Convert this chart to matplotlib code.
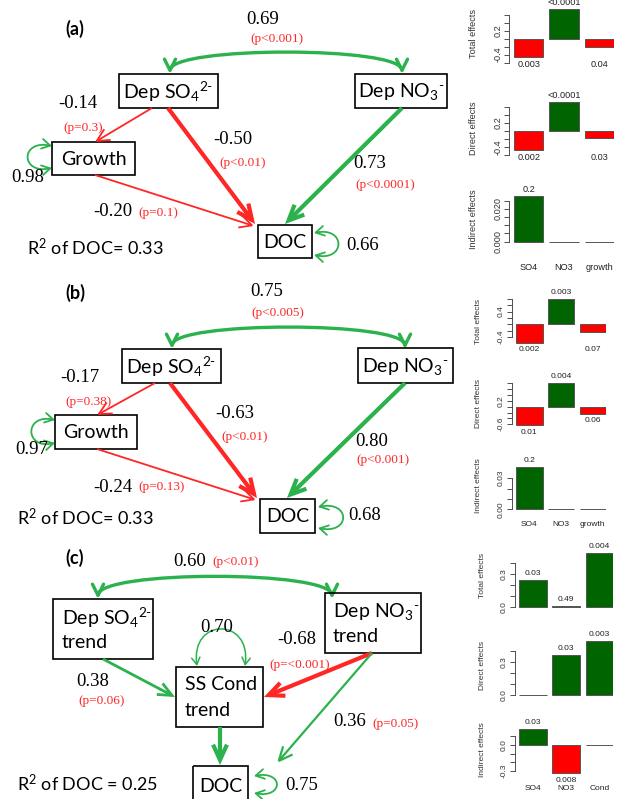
import matplotlib
matplotlib.use('Agg')
import matplotlib.pyplot as plt
from matplotlib.patches import Rectangle, FancyArrowPatch
from matplotlib.path import Path
from matplotlib.transforms import blended_transform_factory

W, H = 617, 799
SANS = 'Lato'
SERIF = 'Liberation Serif'
RSANS = 'Liberation Sans'
plt.rcParams['font.family'] = [SANS, 'DejaVu Sans']
plt.rcParams['mathtext.fontset'] = 'custom'
plt.rcParams['mathtext.rm'] = SANS
plt.rcParams['mathtext.it'] = SANS + ':italic'
plt.rcParams['mathtext.bf'] = SANS + ':bold'

GREEN = '#2bb24c'
RED = '#ff2626'
BAR_GREEN = '#006400'
BAR_RED = '#ff0000'

SO4 = 'Dep SO$_4$$^{\\text{2-}}$'
NO3 = 'Dep NO$_3$$^{\\text{-}}$'

# ---------------- path diagram values ----------------
# order: correlation, SO4->Growth, SO4->DOC, NO3->DOC, Growth->DOC
a_coef = ['0.69', '-0.14', '-0.50', '0.73', '-0.20']
a_p = ['(p<0.001)', '(p=0.3)', '(p<0.01)', '(p<0.0001)', '(p=0.1)']
a_resid = ['0.98', '0.66']
a_r2 = 'R$^2$ of DOC= 0.33'

b_coef = ['0.75', '-0.17', '-0.63', '0.80', '-0.24']
b_p = ['(p<0.005)', '(p=0.38)', '(p<0.01)', '(p<0.001)', '(p=0.13)']
b_resid = ['0.97', '0.68']
b_r2 = 'R$^2$ of DOC= 0.33'

# order: correlation, SO4->Cond, NO3->Cond, NO3->DOC
c_coef = ['0.60', '0.38', '-0.68', '0.36']
c_p = ['(p<0.01)', '(p=0.06)', '(p=<0.001)', '(p=0.05)']
c_resid = ['0.70', '0.75']
c_r2 = 'R$^2$ of DOC = 0.25'

# ---------------- effect bar values ----------------
groups_ab = ['SO4', 'NO3', 'growth']
groups_c = ['SO4', 'NO3', 'Cond']

a_total = [-0.47, 0.73, -0.20]
a_total_p = ['0.003', '<0.0001', '0.04']
a_direct = [-0.48, 0.73, -0.19]
a_direct_p = ['0.002', '<0.0001', '0.03']
a_indirect = [0.028, 0.0, 0.0]
a_indirect_p = ['0.2', '', '']

b_total = [-0.58, 0.79, -0.24]
b_total_p = ['0.002', '0.003', '0.07']
b_direct = [-0.63, 0.80, -0.24]
b_direct_p = ['0.01', '0.004', '0.06']
b_indirect = [0.041, 0.0, 0.0]
b_indirect_p = ['0.2', '', '']

c_total = [0.24, 0.01, 0.49]
c_total_p = ['0.03', '0.49', '0.004']
c_direct = [0.0, 0.36, 0.49]
c_direct_p = ['', '0.03', '0.003']
c_indirect = [0.19, -0.33, 0.0]
c_indirect_p = ['0.03', '0.008', '']

ticks_a_eff = [-0.6, -0.4, -0.2, 0.0, 0.2, 0.4, 0.6]
ticklab_a_eff = ['', '-0.4', '', '', '0.2', '', '']
ticks_a_ind = [0.0, 0.005, 0.010, 0.015, 0.020, 0.025]
ticklab_a_ind = ['0.000', '', '', '', '0.020', '']
ticks_b_tot = [-0.4, -0.2, 0.0, 0.2, 0.4, 0.6, 0.8]
ticklab_b_tot = ['-0.4', '', '', '', '0.4', '', '']
ticks_b_dir = [-0.6, -0.4, -0.2, 0.0, 0.2, 0.4, 0.6, 0.8]
ticklab_b_dir = ['-0.6', '', '', '', '0.2', '', '', '']
ticks_b_ind = [0.0, 0.01, 0.02, 0.03]
ticklab_b_ind = ['0.00', '', '', '0.03']
ticks_c_eff = [0.0, 0.1, 0.2, 0.3, 0.4]
ticklab_c_eff = ['0.0', '', '', '0.3', '']
ticks_c_ind = [-0.3, -0.2, -0.1, 0.0, 0.1]
ticklab_c_ind = ['-0.3', '', '', '0.0', '']

fig = plt.figure(figsize=(W / 100, H / 100), dpi=100)
ax = fig.add_axes([0, 0, 1, 1])
ax.set_xlim(0, W)
ax.set_ylim(H, 0)
ax.axis('off')


def box(x0, y0, x1, y1, lines, tx=None):
    ax.add_patch(Rectangle((x0, y0), x1 - x0, y1 - y0, fill=False, ec='black', lw=1.2))
    if tx is None:
        ax.text((x0 + x1) / 2, (y0 + y1) / 2 + 1, lines[0], ha='center', va='center',
                fontsize=14, family=SANS)
    else:
        for txt, ty in lines:
            ax.text(tx, ty, txt, ha='left', va='center', fontsize=14, family=SANS)


def arrow(p0, p1, color, lw, hl=9, hw=4.5):
    ax.add_patch(FancyArrowPatch(p0, p1, arrowstyle=f'->,head_length={hl},head_width={hw}',
                                 color=color, lw=lw, shrinkA=0, shrinkB=0, mutation_scale=1,
                                 joinstyle='miter', capstyle='butt'))


def curve(p0, c1, c2, p1, color, lw, style='<->', hl=8, hw=4):
    path = Path([p0, c1, c2, p1], [Path.MOVETO, Path.CURVE4, Path.CURVE4, Path.CURVE4])
    ax.add_patch(FancyArrowPatch(path=path, arrowstyle=f'{style},head_length={hl},head_width={hw}',
                                 color=color, lw=lw, mutation_scale=1))


def num(x, y, s, ha='center'):
    ax.text(x, y, s, ha=ha, va='center', fontsize=13.5, family=SERIF)


def pval(x, y, s, ha='center'):
    ax.text(x, y, s, ha=ha, va='center', fontsize=9.5, family=SERIF, color=RED)


def panel_label(x, y, s):
    ax.text(x, y, s, ha='center', va='center', fontsize=13, family=SANS, fontweight='bold')


# ---------------- panel (a) ----------------
panel_label(75, 29, '(a)')
curve((170, 74), (170, 46), (402, 46), (402, 74), GREEN, 2.4)
box(119, 74, 218, 108, [SO4])
box(355, 74, 447, 108, [NO3])
box(52, 142, 135, 175, ['Growth'])
box(258, 225, 312, 258, ['DOC'])
arrow((152, 108), (95, 142), RED, 1.3)
arrow((168, 108), (255, 224), RED, 3.0, 11, 5)
arrow((402, 108), (285, 224), GREEN, 3.0, 11, 5)
arrow((95, 175), (254, 226), RED, 1.3)
curve((52, 146), (20, 139), (20, 175), (52, 168), GREEN, 1.3, hl=6, hw=3.5)
curve((314, 233), (346, 226), (346, 262), (314, 255), GREEN, 1.3, hl=6, hw=3.5)
num(263, 19, a_coef[0]); pval(277, 39, a_p[0])
num(78, 104, a_coef[1]); pval(83, 128, a_p[1])
num(233, 140, a_coef[2]); pval(243, 163, a_p[2])
num(370, 164, a_coef[3]); pval(385, 185, a_p[3])
num(113, 212, a_coef[4]); pval(158, 213, a_p[4])
num(28, 177, a_resid[0]); num(363, 245, a_resid[1])
ax.text(27, 247, a_r2, ha='left', va='center', fontsize=13, family=SANS)

# ---------------- panel (b) ----------------
panel_label(75, 293, '(b)')
curve((172, 349), (172, 321), (405, 321), (405, 349), GREEN, 2.4)
box(122, 349, 221, 383, [SO4])
box(358, 348, 453, 383, [NO3])
box(55, 415, 137, 449, ['Growth'])
box(260, 499, 315, 533, ['DOC'])
arrow((155, 383), (97, 415), RED, 1.3)
arrow((170, 383), (257, 498), RED, 3.0, 11, 5)
arrow((405, 383), (287, 498), GREEN, 3.0, 11, 5)
arrow((97, 449), (256, 500), RED, 1.3)
curve((55, 420), (24, 413), (24, 450), (55, 443), GREEN, 1.3, hl=6, hw=3.5)
curve((318, 507), (351, 500), (351, 535), (318, 528), GREEN, 1.3, hl=6, hw=3.5)
num(267, 292, b_coef[0]); pval(278, 313, b_p[0])
num(80, 378, b_coef[1]); pval(88, 402, b_p[1])
num(235, 413, b_coef[2]); pval(245, 437, b_p[2])
num(372, 441, b_coef[3]); pval(383, 460, b_p[3])
num(113, 487, b_coef[4]); pval(162, 487, b_p[4])
num(32, 450, b_resid[0]); num(365, 515, b_resid[1])
ax.text(17, 517, b_r2, ha='left', va='center', fontsize=13, family=SANS)

# ---------------- panel (c) ----------------
panel_label(75, 558, '(c)')
curve((98, 599), (98, 570), (332, 570), (332, 599), GREEN, 2.4)
box(53, 599, 153, 659, [(SO4, 618), ('trend', 642)], tx=62)
box(325, 593, 421, 653, [(NO3, 612), ('trend', 636)], tx=333)
box(176, 667, 263, 727, [('SS Cond', 685), ('trend', 710)], tx=185)
box(193, 766, 248, 805, ['DOC'])
curve((197, 666), (190, 617), (252, 617), (245, 666), GREEN, 1.1, hl=5, hw=3)
arrow((103, 659), (175, 697), GREEN, 2.0, 10, 4.5)
arrow((372, 653), (264, 697), RED, 3.0, 11, 5)
arrow((372, 653), (277, 763), GREEN, 1.6, 10, 4.5)
arrow((220, 727), (220, 765), GREEN, 3.0, 11, 5)
curve((254, 776), (284, 770), (284, 799), (254, 793), GREEN, 1.3, hl=6, hw=3.5)
num(190, 561, c_coef[0]); pval(212, 562, c_p[0], ha='left')
num(217, 627, c_resid[0])
num(93, 682, c_coef[1]); pval(102, 701, c_p[1])
num(297, 639, c_coef[2]); pval(300, 665, c_p[2])
num(350, 722, c_coef[3]); pval(372, 724, c_p[3], ha='left')
num(302, 785, c_resid[1])
ax.text(17, 783, c_r2, ha='left', va='center', fontsize=13, family=SANS)


# ---------------- effect bar charts ----------------
def effects(x0, unit, z, s, ylo, yhi, vals, plabs, ticks, ticklabs, ylabel, ylab_xy,
            fs=6.3, neg_at_min=True, xlabels=None, xlab_y=None):
    left = x0 + 0.05 * unit
    right = x0 + 3.6 * unit
    top = z - yhi * s
    bot = z - ylo * s
    bx = fig.add_axes([left / W, 1 - bot / H, (right - left) / W, (bot - top) / H])
    bx.patch.set_visible(False)
    bx.set_xlim(0.05, 3.6)
    bx.set_ylim(ylo, yhi)
    centers = [0.7, 1.9, 3.1]
    colors = [BAR_GREEN if v > 0 else BAR_RED for v in vals]
    bx.bar(centers, vals, width=1.0, color=colors, edgecolor='#555555', lw=0.7)
    for sp in ['top', 'right', 'bottom']:
        bx.spines[sp].set_visible(False)
    bx.spines['left'].set_bounds(ticks[0], ticks[-1])
    bx.spines['left'].set_linewidth(0.6)
    bx.spines['left'].set_color('#333333')
    bx.set_xticks([])
    bx.set_yticks(ticks)
    bx.set_yticklabels(ticklabs, rotation=90, va='center', family=RSANS, color='#333333')
    bx.tick_params(axis='y', length=3.5, width=0.6, pad=1.5, labelsize=fs, color='#333333')
    d = 6.5 / s
    vmin = min(vals)
    for c, v, lab in zip(centers, vals, plabs):
        if not lab:
            continue
        if v >= 0:
            y = v + d
        else:
            y = (vmin if neg_at_min else v) - d * 1.1
        bx.text(c, y, lab, ha='center', va='center', fontsize=fs, family=RSANS,
                color='#222222', clip_on=False)
    ax.text(ylab_xy[0], ylab_xy[1], ylabel, rotation=90, ha='center', va='center',
            fontsize=fs, family=RSANS, color='#333333')
    if xlabels:
        tr = blended_transform_factory(bx.transData, ax.transData)
        for c, lab in zip(centers, xlabels):
            ax.text(c, xlab_y, lab, transform=tr, ha='center', va='center',
                    fontsize=fs, family=RSANS, color='#222222')


effects(508, 29.5, 38.5, 40, -0.85, 0.9, a_total, a_total_p, ticks_a_eff, ticklab_a_eff,
        'Total effects', (473, 34), fs=6.6)
effects(508, 29.5, 130.8, 40, -0.85, 0.9, a_direct, a_direct_p, ticks_a_eff, ticklab_a_eff,
        'Direct effects', (473, 128), fs=6.6)
effects(508, 29.5, 241.7, 1640, -0.004, 0.032, a_indirect, a_indirect_p, ticks_a_ind,
        ticklab_a_ind, 'Indirect effects', (473, 219), fs=6.6, xlabels=groups_ab, xlab_y=268)

effects(510.7, 26.5, 324.3, 31.7, -0.9, 1.0, b_total, b_total_p, ticks_b_tot, ticklab_b_tot,
        'Total effects', (478, 321), fs=6.0)
effects(510.7, 26.5, 406.7, 29.2, -0.9, 1.0, b_direct, b_direct_p, ticks_b_dir, ticklab_b_dir,
        'Direct effects', (478, 403), fs=6.0, neg_at_min=False)
effects(510.7, 26.5, 509.3, 1040, -0.005, 0.05, b_indirect, b_indirect_p, ticks_b_ind,
        ticklab_b_ind, 'Indirect effects', (478, 486), fs=6.0, xlabels=groups_ab, xlab_y=525)

effects(513.5, 27.7, 606.7, 110, -0.1, 0.6, c_total, c_total_p, ticks_c_eff, ticklab_c_eff,
        'Total effects', (482, 575), fs=6.0)
effects(513.5, 27.7, 695, 110, -0.1, 0.6, c_direct, c_direct_p, ticks_c_eff, ticklab_c_eff,
        'Direct effects', (482, 665), fs=6.0)
effects(513.5, 27.7, 745, 86, -0.45, 0.3, c_indirect, c_indirect_p, ticks_c_ind, ticklab_c_ind,
        'Indirect effects', (482, 750), fs=6.0, neg_at_min=False, xlabels=groups_c, xlab_y=789)

fig.savefig('out.png', dpi=100)
